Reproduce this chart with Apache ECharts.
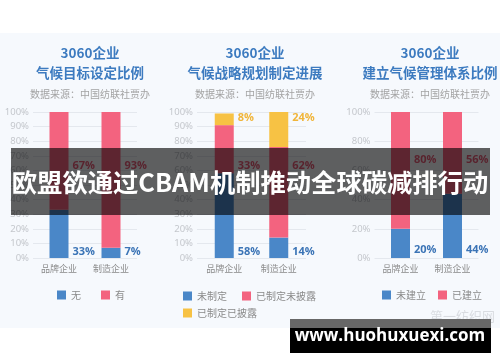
<!DOCTYPE html>
<html><head><meta charset="utf-8">
<script src="https://cdn.jsdelivr.net/npm/echarts@6/dist/echarts.min.js"></script>
<style>html,body{margin:0;padding:0;background:#fff}#c{width:500px;height:362px}</style>
</head><body><div id="c"></div>
<script>
// ---- data ----
const categories = ['品牌企业', '制造企业'];
const panelTitles = ['3060企业\n气候目标设定比例', '3060企业\n气候战略规划制定进展', '3060企业\n建立气候管理体系比例'];
const sourceText = '数据来源：中国纺联社贾办';
const headline = '欧盟欲通过CBAM机制推动全球碳减排行动';
const siteMark = 'www.huohuxuexi.com';
const weiboMark = '第一纺织网';
// panel 1
const p1Names = ['无', '有'];
const p1None = [33, 7];
const p1Has = [67, 93];
// panel 2
const p2Names = ['未制定', '已制定未披露', '已制定已披露'];
const p2NotSet = [58, 14];
const p2SetUndisclosed = [33, 62];
const p2SetDisclosed = [8, 24];
// panel 3
const p3Names = ['未建立', '已建立'];
const p3NotBuilt = [20, 44];
const p3Built = [80, 56];
// axis ticks (percent)
const yInterval = [10, 10, 20];

// ---- style ----
const BLUE = '#4a87c8', RED = '#f3637f', YELLOW = '#f7c244';
const BLUE_T = '#3b74b6', RED_T = '#e85d78', YELLOW_T = '#f0b53a';
const grids = [
  {left: 33, width: 104, top: 112, height: 146},
  {left: 197, width: 109, top: 112, height: 146},
  {left: 374.5, width: 104, top: 112, height: 146}
];
const titleCenters = [85, 250, 425];

function buildPanel(idx, names, values, colors, labelColors, labelLevels) {
  const out = [];
  const base = categories.map(() => 0);
  values.forEach((vals, si) => {
    const data = vals.map((v, ci) => {
      const lo = base[ci], hi = lo + v;
      const pct = (hi - labelLevels[si]) / (hi - lo) * 100;
      return {value: v, label: {position: ['100%', pct + '%']}};
    });
    vals.forEach((v, ci) => base[ci] += v);
    out.push({
      type: 'bar', name: names[si], stack: 's' + idx,
      xAxisIndex: idx, yAxisIndex: idx, barWidth: 19,
      itemStyle: {color: colors[si]},
      label: {show: true, formatter: '{c}%', align: 'left', verticalAlign: 'middle',
        offset: [4, 0], color: labelColors[si], fontSize: 11, fontWeight: 'bold',
        fontFamily: 'Open Sans'},
      data
    });
  });
  return out;
}

const series = [].concat(
  buildPanel(0, p1Names, [p1None, p1Has], [BLUE, RED], [BLUE_T, RED_T], [4, 63]),
  buildPanel(1, p2Names, [p2NotSet, p2SetUndisclosed, p2SetDisclosed], [BLUE, RED, YELLOW], [BLUE_T, RED_T, YELLOW_T], [4, 63, 96]),
  buildPanel(2, p3Names, [p3NotBuilt, p3Built], [BLUE, RED], [BLUE_T, RED_T], [5.5, 67])
);

const xAxis = grids.map((g, i) => ({
  type: 'category', gridIndex: i, data: categories,
  axisLine: {show: false}, axisTick: {show: false},
  axisLabel: {fontSize: 9, color: '#8a8a8a', margin: 6, fontFamily: 'Noto Sans CJK SC'}
}));
const yAxis = grids.map((g, i) => ({
  type: 'value', gridIndex: i, min: 0, max: 100, interval: yInterval[i],
  axisLine: {show: false}, axisTick: {show: false},
  splitLine: {lineStyle: {color: '#e4e8ee', width: 1}},
  axisLabel: {formatter: '{value}%', fontSize: 9.5, color: '#c4c7cc', margin: 4, fontFamily: 'Noto Sans'}
}));

const title = panelTitles.map((t, i) => ({
  text: t, subtext: sourceText, left: titleCenters[i], top: 38, textAlign: 'center',
  itemGap: 6,
  textStyle: {fontSize: 13.5, lineHeight: 20, fontWeight: 'bold', color: '#3d7bc0', fontFamily: 'Noto Sans CJK SC'},
  subtextStyle: {fontSize: 10, color: '#a3a3a3', fontFamily: 'Noto Sans CJK SC'}
}));

const legendCommon = {icon: 'rect', itemWidth: 9, itemHeight: 9, orient: 'horizontal',
  textStyle: {fontSize: 10, color: '#8a8a8a', fontFamily: 'Noto Sans CJK SC'}, selectedMode: false, padding: 0};
const legend = [
  Object.assign({}, legendCommon, {data: p1Names, left: 57, top: 290, itemGap: 20}),
  Object.assign({}, legendCommon, {data: p2Names.slice(0, 2), left: 183, top: 291, itemGap: 15}),
  Object.assign({}, legendCommon, {data: p2Names.slice(2), left: 183, top: 308}),
  Object.assign({}, legendCommon, {data: p3Names, left: 382, top: 290, itemGap: 12})
];

const graphic = [
  {type: 'rect', shape: {x: 0, y: 33, width: 500, height: 295}, style: {fill: '#f6f9fd'}, z: -100, silent: true},
  {type: 'rect', shape: {x: 11, y: 148, width: 479, height: 67}, style: {fill: 'rgba(0,0,0,0.62)'}, z: 100, silent: true},
  {type: 'text', x: 250, y: 182, z: 101, silent: true,
    style: {text: headline, fill: '#fff', font: 'bold 25.3px "Noto Sans CJK SC"', align: 'center', verticalAlign: 'middle',
      shadowColor: 'rgba(0,0,0,0.4)', shadowBlur: 2}},
  {type: 'text', x: 430, y: 316, z: 90, silent: true,
    style: {text: weiboMark, fill: '#d9dce1', font: '13px "Noto Sans CJK SC"', align: 'left', verticalAlign: 'middle'}},
  {type: 'rect', shape: {x: 290, y: 319, width: 201, height: 9}, style: {fill: '#676767'}, z: 100, silent: true},
  {type: 'rect', shape: {x: 290, y: 328, width: 201, height: 25}, style: {fill: '#000'}, z: 100, silent: true},
  {type: 'text', x: 390, y: 336, z: 101, silent: true,
    style: {text: siteMark, fill: '#fff', font: 'bold 17px "Open Sans"', align: 'center', verticalAlign: 'middle'}}
];

const chart = echarts.init(document.getElementById('c'), null, {renderer: 'canvas'});
chart.setOption({
  animation: false,
  backgroundColor: '#ffffff',
  title, legend, grid: grids, xAxis, yAxis, series, graphic
});
</script></body></html>
